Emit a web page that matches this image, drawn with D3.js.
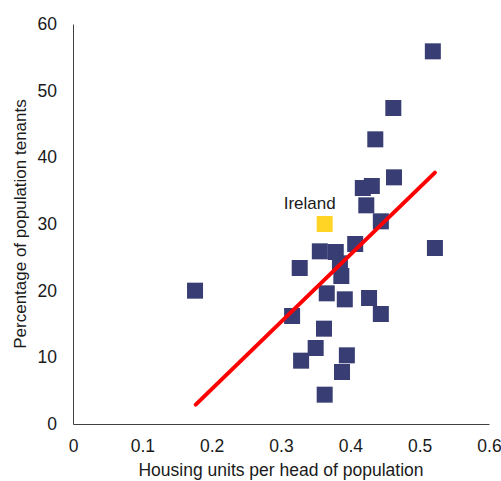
<!DOCTYPE html>
<html lang="en">
<head>
    <meta charset="UTF-8">
    <title>Tenants vs housing units</title>
    <script src="https://d3js.org/d3.v7.min.js"></script>
    <style>
        body { margin: 0; background: #fff; }
        text { font-family: "Liberation Sans", Arial, sans-serif; fill: #1a1a1a; }
        .axis path { stroke: #404040; }
        .axis text { font-size: 17.5px; }
    </style>
</head>
<body>
    <svg width="501" height="481"></svg>

    <script>
        // Countries: housing units per head, % tenants
        const unitsPerHead = [0.519, 0.462, 0.436, 0.463, 0.418, 0.431, 0.423, 0.444, 0.407, 0.522,
                              0.356, 0.379, 0.385, 0.327, 0.387, 0.366, 0.392, 0.427, 0.444, 0.316,
                              0.362, 0.350, 0.329, 0.395, 0.388, 0.363, 0.176];
        const tenantShare = [55.9, 47.4, 42.7, 37.0, 35.4, 35.7, 32.8, 30.4, 27.0, 26.4,
                             25.9, 25.8, 24.1, 23.4, 22.2, 19.6, 18.7, 18.9, 16.5, 16.2,
                             14.3, 11.4, 9.5, 10.3, 7.8, 4.4, 20.0];

        // Highlighted point
        const irelandX = 0.363;
        const irelandY = 30.0;

        // Trend line end points
        const trendX = [0.177, 0.522];
        const trendY = [2.9, 37.7];

        const xTicks = [0, 0.1, 0.2, 0.3, 0.4, 0.5, 0.6];
        const yTicks = [0, 10, 20, 30, 40, 50, 60];

        const margin = { top: 24, right: 12, bottom: 57, left: 73 };
        const width = 501 - margin.left - margin.right;
        const height = 481 - margin.top - margin.bottom;

        const svg = d3.select("svg")
            .append("g")
            .attr("transform", `translate(${margin.left},${margin.top})`);

        const x = d3.scaleLinear().domain([0, 0.6]).range([0, width]);
        const y = d3.scaleLinear().domain([0, 60]).range([height, 0]);

        // Axes, no tick marks
        svg.append("g")
            .attr("class", "axis")
            .attr("transform", `translate(0,${height})`)
            .call(d3.axisBottom(x).tickValues(xTicks).tickSize(0).tickPadding(16)
                .tickFormat(d => d === 0 ? "0" : d3.format(".1f")(d)));

        svg.append("g")
            .attr("class", "axis")
            .call(d3.axisLeft(y).tickValues(yTicks).tickSize(0).tickPadding(16));

        svg.selectAll(".axis text").attr("fill", "#1a1a1a");

        // Axis titles
        svg.append("text")
            .attr("x", width / 2)
            .attr("y", height + 52)
            .attr("text-anchor", "middle")
            .style("font-size", "17.5px")
            .text("Housing units per head of population");

        svg.append("text")
            .attr("transform", `translate(-47,${height / 2}) rotate(-90)`)
            .attr("text-anchor", "middle")
            .style("font-size", "17px")
            .text("Percentage of population tenants");

        // Squares
        const size = 16;
        const points = unitsPerHead.map((u, i) => ({ x: u, y: tenantShare[i] }));

        svg.selectAll(".pt")
            .data(points)
            .join("rect")
            .attr("class", "pt")
            .attr("x", d => x(d.x) - size / 2)
            .attr("y", d => y(d.y) - size / 2)
            .attr("width", size)
            .attr("height", size)
            .attr("fill", "#383e74");

        svg.append("rect")
            .attr("x", x(irelandX) - size / 2)
            .attr("y", y(irelandY) - size / 2)
            .attr("width", size)
            .attr("height", size)
            .attr("fill", "#ffd424");

        svg.append("text")
            .attr("x", x(irelandX) - 15)
            .attr("y", y(irelandY) - 15)
            .attr("text-anchor", "middle")
            .style("font-size", "17px")
            .text("Ireland");

        // Trend line
        svg.append("path")
            .datum(trendX.map((v, i) => [v, trendY[i]]))
            .attr("fill", "none")
            .attr("stroke", "#ff0000")
            .attr("stroke-width", 4)
            .attr("stroke-linecap", "round")
            .attr("d", d3.line().x(d => x(d[0])).y(d => y(d[1])));
    </script>
</body>
</html>
